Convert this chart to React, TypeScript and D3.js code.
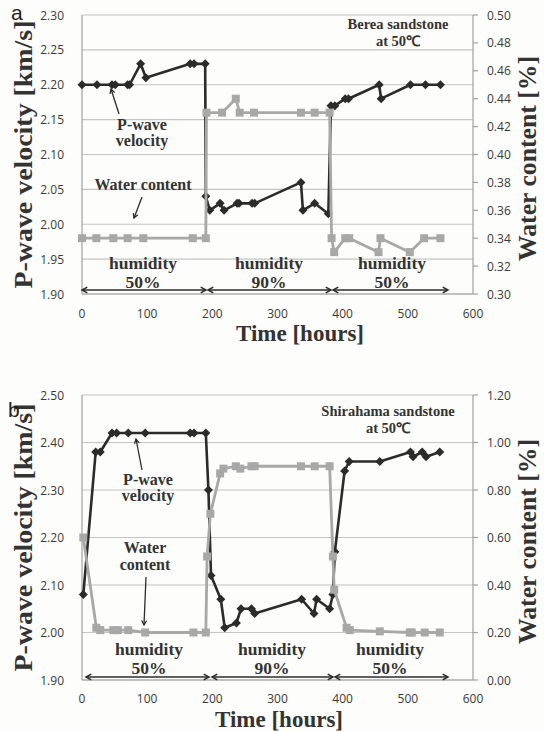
import React from "react";
import * as d3 from "d3";

// ---- Panel a: Berea sandstone ----
const timeA_vel = [0, 23, 46, 51, 70, 73, 90, 98, 166, 172, 189, 190, 196, 212, 218, 238, 241, 261, 265, 336, 339, 357, 378, 382, 388, 404, 409, 456, 459, 504, 527, 550];
const velA = [2.2, 2.2, 2.2, 2.2, 2.2, 2.2, 2.23, 2.21, 2.23, 2.23, 2.23, 2.04, 2.02, 2.03, 2.02, 2.03, 2.03, 2.03, 2.03, 2.06, 2.02, 2.03, 2.015, 2.17, 2.17, 2.18, 2.18, 2.2, 2.18, 2.2, 2.2, 2.2];
const timeA_wat = [0, 22, 48, 70, 94, 170, 190, 191, 215, 236, 242, 264, 336, 357, 380, 383, 387, 404, 410, 455, 458, 503, 525, 550];
const watA = [0.34, 0.34, 0.34, 0.34, 0.34, 0.34, 0.34, 0.43, 0.43, 0.44, 0.43, 0.43, 0.43, 0.43, 0.43, 0.34, 0.33, 0.34, 0.34, 0.33, 0.34, 0.33, 0.34, 0.34];
const velTicksA = [1.9, 1.95, 2.0, 2.05, 2.1, 2.15, 2.2, 2.25, 2.3];
const watTicksA = [0.3, 0.32, 0.34, 0.36, 0.38, 0.4, 0.42, 0.44, 0.46, 0.48, 0.5];

// ---- Panel b: Shirahama sandstone ----
const timeB_vel = [2, 21, 28, 46, 53, 71, 97, 166, 172, 190, 194, 198, 213, 219, 237, 244, 260, 265, 337, 356, 360, 380, 385, 388, 403, 410, 457, 504, 508, 522, 528, 549];
const velB = [2.08, 2.38, 2.38, 2.42, 2.42, 2.42, 2.42, 2.42, 2.42, 2.42, 2.3, 2.12, 2.07, 2.01, 2.02, 2.05, 2.05, 2.04, 2.07, 2.04, 2.07, 2.05, 2.08, 2.17, 2.34, 2.36, 2.36, 2.38, 2.37, 2.38, 2.37, 2.38];
const timeB_wat = [2, 22, 28, 48, 55, 71, 97, 171, 190, 192, 197, 212, 217, 236, 243, 260, 265, 336, 357, 380, 385, 387, 406, 411, 457, 503, 506, 526, 549];
const watB = [0.6, 0.22, 0.21, 0.21, 0.21, 0.21, 0.2, 0.2, 0.2, 0.52, 0.7, 0.87, 0.89, 0.9, 0.89, 0.9, 0.9, 0.9, 0.9, 0.9, 0.52, 0.38, 0.22, 0.21, 0.205, 0.2, 0.2, 0.2, 0.2];
const velTicksB = [1.9, 2.0, 2.1, 2.2, 2.3, 2.4, 2.5];
const watTicksB = [0, 0.2, 0.4, 0.6, 0.8, 1.0, 1.2];

const timeTicks = [0, 100, 200, 300, 400, 500, 600];
const humidityPhases = [
  { label: "50%", from: 0, to: 190 },
  { label: "90%", from: 190, to: 383 },
  { label: "50%", from: 383, to: 560 },
];

const DARK = "#2b2b2b";
const GRAY = "#a8a8a8";
const GRID = "#c4c4c4";
const AXIS = "#a0a0a0";
const SERIF = "'Liberation Serif', 'Times New Roman', serif";
const SANS = "'Open Sans', 'Liberation Sans', sans-serif";

type PanelProps = {
  top: number;
  bottom: number;
  velDomain: [number, number];
  watDomain: [number, number];
  velTicks: number[];
  watTicks: number[];
  velDigits: number;
  watDigits: number;
  tv: number[];
  v: number[];
  tw: number[];
  w: number[];
  letter: string;
  letterPos: [number, number];
  sample: string;
  sampleX: number;
  sampleY: number;
  pwaveLines: string[];
  pwaveX: number;
  pwaveY: number;
  pwaveArrow: [number, number, number, number];
  waterLines: string[];
  waterX: number;
  waterY: number;
  waterArrow: [number, number, number, number];
  humX: number[];
  humY: number;
  arrowY: number;
  arrowX: [number, number][];
  timeTitleX: number;
  timeTitleY: number;
  xTickY: number;
  id: string;
};

function Panel(p: PanelProps) {
  const x = d3.scaleLinear().domain([0, 600]).range([82, 473]);
  const yv = d3.scaleLinear().domain(p.velDomain).range([p.bottom, p.top]);
  const yw = d3.scaleLinear().domain(p.watDomain).range([p.bottom, p.top]);
  const velPts = p.tv.map((t, i) => [x(t), yv(p.v[i])] as [number, number]);
  const watPts = p.tw.map((t, i) => [x(t), yw(p.w[i])] as [number, number]);
  const line = d3.line();
  const midY = (p.top + p.bottom) / 2;
  const arrowHead = (x1: number, y1: number, x2: number, y2: number, size = 6) => {
    const a = Math.atan2(y2 - y1, x2 - x1);
    const s = 0.5;
    const p1 = [x2 - size * Math.cos(a - s), y2 - size * Math.sin(a - s)];
    const p2 = [x2 - size * Math.cos(a + s), y2 - size * Math.sin(a + s)];
    return `M${p1[0]},${p1[1]}L${x2},${y2}L${p2[0]},${p2[1]}`;
  };
  return (
    <g>
      {/* gridlines */}
      {p.velTicks.map((t, i) => (
        <line key={"g" + i} x1={82} x2={473} y1={yv(t)} y2={yv(t)} stroke={GRID} strokeWidth={1.2} />
      ))}
      {/* axes */}
      <line x1={82} x2={82} y1={p.top} y2={p.bottom} stroke={AXIS} strokeWidth={1.2} />
      <line x1={473} x2={473} y1={p.top} y2={p.bottom} stroke={AXIS} strokeWidth={1.2} />
      <line x1={82} x2={473} y1={p.bottom} y2={p.bottom} stroke={AXIS} strokeWidth={1.2} />
      {p.watTicks.map((t, i) => (
        <line key={"rt" + i} x1={473} x2={478} y1={yw(t)} y2={yw(t)} stroke={AXIS} strokeWidth={1.2} />
      ))}
      {/* tick labels */}
      {p.velTicks.map((t, i) => (
        <text key={"lv" + i} x={64} y={yv(t) + 4.5} textAnchor="end" fontFamily={SANS} fontSize={12} fill="#3a3a3a">
          {t.toFixed(p.velDigits)}
        </text>
      ))}
      {p.watTicks.map((t, i) => (
        <text key={"lw" + i} x={487} y={yw(t) + 4.5} textAnchor="start" fontFamily={SANS} fontSize={12} fill="#3a3a3a">
          {t.toFixed(p.watDigits)}
        </text>
      ))}
      {timeTicks.map((t, i) => (
        <text key={"lt" + i} x={x(t)} y={p.xTickY} textAnchor="middle" fontFamily={SANS} fontSize={12} fill="#3a3a3a">
          {t}
        </text>
      ))}
      {/* axis titles */}
      <text transform={`translate(32,${midY}) rotate(-90)`} textAnchor="middle" fontFamily={SERIF} fontWeight="bold" fontSize={24.5} fill="#333" textLength={268} lengthAdjust="spacingAndGlyphs">
        P-wave velocity [km/s]
      </text>
      <text transform={`translate(536,${midY + 4}) rotate(-90)`} textAnchor="middle" fontFamily={SERIF} fontWeight="bold" fontSize={25} fill="#333" textLength={205} lengthAdjust="spacingAndGlyphs">
        Water content [%]
      </text>
      <text x={p.timeTitleX} y={p.timeTitleY} textAnchor="middle" fontFamily={SERIF} fontWeight="bold" fontSize={23} fill="#333">
        Time [hours]
      </text>
      <text x={p.letterPos[0]} y={p.letterPos[1]} fontFamily="'Liberation Sans', Arial, sans-serif" fontSize={21} fill="#222">
        {p.letter}
      </text>
      {/* sample label */}
      <text x={p.sampleX} y={p.sampleY} textAnchor="middle" fontFamily={SERIF} fontWeight="bold" fontSize={14.5} fill="#333">
        {p.sample}
      </text>
      <text x={p.sampleX} y={p.sampleY + 17} textAnchor="middle" fontFamily={SERIF} fontWeight="bold" fontSize={14.5} fill="#333">
        at 50℃
      </text>
      {/* humidity labels and arrows */}
      {humidityPhases.map((h, i) => (
        <g key={"h" + i}>
          <text x={p.humX[i]} y={p.humY} textAnchor="middle" fontFamily={SERIF} fontWeight="bold" fontSize={17.5} fill="#333">
            humidity
          </text>
          <text x={p.humX[i]} y={p.humY + 19} textAnchor="middle" fontFamily={SERIF} fontWeight="bold" fontSize={17.5} fill="#333">
            {h.label}
          </text>
          <line x1={p.arrowX[i][0]} x2={p.arrowX[i][1]} y1={p.arrowY} y2={p.arrowY} stroke={DARK} strokeWidth={1.5} />
          <path d={arrowHead(p.arrowX[i][1], p.arrowY, p.arrowX[i][0], p.arrowY)} fill="none" stroke={DARK} strokeWidth={1.5} />
          <path d={arrowHead(p.arrowX[i][0], p.arrowY, p.arrowX[i][1], p.arrowY)} fill="none" stroke={DARK} strokeWidth={1.5} />
        </g>
      ))}
      {/* series */}
      <path d={line(velPts) || ""} fill="none" stroke={DARK} strokeWidth={2.6} strokeLinejoin="round" />
      {velPts.map((pt, i) => (
        <path key={"dv" + i} d={`M${pt[0]},${pt[1] - 4.5}L${pt[0] + 4.5},${pt[1]}L${pt[0]},${pt[1] + 4.5}L${pt[0] - 4.5},${pt[1]}Z`} fill={DARK} />
      ))}
      <path d={line(watPts) || ""} fill="none" stroke={GRAY} strokeWidth={2.8} strokeLinejoin="round" />
      {watPts.map((pt, i) => (
        <rect key={"sw" + i} x={pt[0] - 4} y={pt[1] - 4} width={8} height={8} fill={GRAY} />
      ))}
      {/* series annotations */}
      {p.pwaveLines.map((s, i) => (
        <text key={"pw" + i} x={p.pwaveX} y={p.pwaveY + i * 16} textAnchor="middle" fontFamily={SERIF} fontWeight="bold" fontSize={16} fill="#333">
          {s}
        </text>
      ))}
      <line x1={p.pwaveArrow[0]} y1={p.pwaveArrow[1]} x2={p.pwaveArrow[2]} y2={p.pwaveArrow[3]} stroke={DARK} strokeWidth={1.3} />
      <path d={arrowHead(p.pwaveArrow[0], p.pwaveArrow[1], p.pwaveArrow[2], p.pwaveArrow[3], 5)} fill="none" stroke={DARK} strokeWidth={1.3} />
      {p.waterLines.map((s, i) => (
        <text key={"wl" + i} x={p.waterX} y={p.waterY + i * 17} textAnchor="middle" fontFamily={SERIF} fontWeight="bold" fontSize={16} fill="#333">
          {s}
        </text>
      ))}
      <line x1={p.waterArrow[0]} y1={p.waterArrow[1]} x2={p.waterArrow[2]} y2={p.waterArrow[3]} stroke={DARK} strokeWidth={1.3} />
      <path d={arrowHead(p.waterArrow[0], p.waterArrow[1], p.waterArrow[2], p.waterArrow[3], 5)} fill="none" stroke={DARK} strokeWidth={1.3} />
    </g>
  );
}

export default function App() {
  return (
    <svg width={544} height={732} style={{ position: "absolute", left: 0, top: 0, background: "#fff" }}>
      <rect width={544} height={732} fill="#fdfdfb" />
      <Panel
        id="a"
        top={15}
        bottom={294}
        velDomain={[1.9, 2.3]}
        watDomain={[0.3, 0.5]}
        velTicks={velTicksA}
        watTicks={watTicksA}
        velDigits={2}
        watDigits={2}
        tv={timeA_vel}
        v={velA}
        tw={timeA_wat}
        w={watA}
        letter="a"
        letterPos={[11, 20]}
        sample="Berea sandstone"
        sampleX={398}
        sampleY={29}
        pwaveLines={["P-wave", "velocity"]}
        pwaveX={142}
        pwaveY={130}
        pwaveArrow={[119, 114, 111, 89]}
        waterLines={["Water content"]}
        waterX={143}
        waterY={190}
        waterArrow={[142, 197, 134, 218]}
        humX={[143, 269, 392]}
        humY={269}
        arrowY={290}
        arrowX={[[82, 206], [208, 331], [333, 448]]}
        timeTitleX={300}
        timeTitleY={341}
        xTickY={318}
      />
      <Panel
        id="b"
        top={395}
        bottom={680}
        velDomain={[1.9, 2.5]}
        watDomain={[0, 1.2]}
        velTicks={velTicksB}
        watTicks={watTicksB}
        velDigits={2}
        watDigits={2}
        tv={timeB_vel}
        v={velB}
        tw={timeB_wat}
        w={watB}
        letter="b"
        letterPos={[8, 417]}
        sample="Shirahama sandstone"
        sampleX={388}
        sampleY={416}
        pwaveLines={["P-wave", "velocity"]}
        pwaveX={148}
        pwaveY={485}
        pwaveArrow={[142, 470, 136, 439]}
        waterLines={["Water", "content"]}
        waterX={145}
        waterY={553}
        waterArrow={[146, 577, 144, 625]}
        humX={[149, 272, 390]}
        humY={655}
        arrowY={677}
        arrowX={[[86, 209], [212, 333], [335, 448]]}
        timeTitleX={279}
        timeTitleY={727}
        xTickY={703}
      />
    </svg>
  );
}
